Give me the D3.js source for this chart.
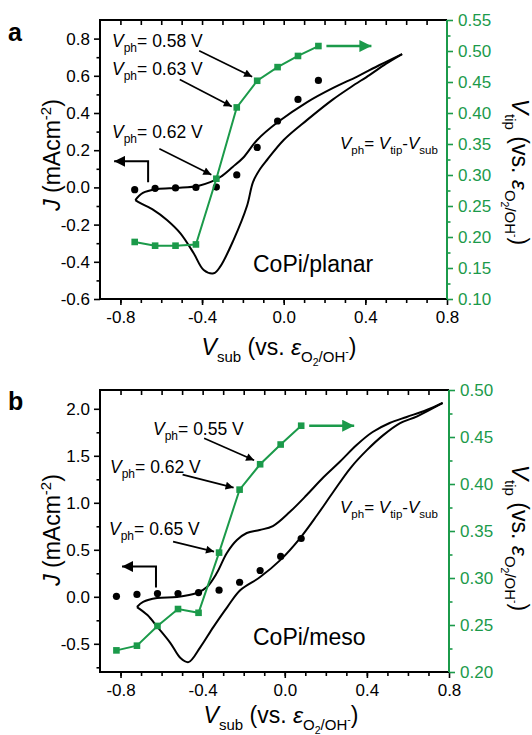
<!DOCTYPE html>
<html><head><meta charset="utf-8">
<script src="https://cdn.jsdelivr.net/npm/d3@7"></script>
<style>
body{margin:0;background:#fff}
svg{display:block}
text{font-family:"Liberation Sans",Arial,Helvetica,sans-serif;white-space:pre}
</style>
</head><body>
<svg id="chart" width="532" height="735"></svg>
<script>
const GREEN = "#1b9a4a";

// ---------- Panel a (CoPi/planar) ----------
const vsubA   = [-0.73,-0.63,-0.53,-0.43,-0.33,-0.23,-0.13,-0.03,0.07,0.17];
const vtipA   = [0.192,0.186,0.186,0.188,0.294,0.409,0.452,0.474,0.492,0.508];
const jDotA   = [-0.012,-0.005,-0.003,0.0,0.002,0.067,0.215,0.357,0.473,0.575];
const cvFwdA  = [[-0.727,-0.068],[-0.69,-0.03],[-0.62,-0.01],[-0.52,-0.003],[-0.42,0.008],[-0.36,0.028],[-0.31,0.056],[-0.25,0.11],[-0.2,0.158],[-0.13,0.255],[-0.03,0.35],[0.115,0.459],[0.24,0.534],[0.36,0.596],[0.47,0.658],[0.58,0.717]];
const cvRevA  = [[0.58,0.717],[0.5,0.664],[0.42,0.604],[0.33,0.54],[0.24,0.472],[0.115,0.363],[0.0,0.255],[-0.08,0.15],[-0.115,0.1],[-0.15,0.03],[-0.18,-0.1],[-0.246,-0.283],[-0.311,-0.426],[-0.343,-0.462],[-0.392,-0.444],[-0.441,-0.354],[-0.506,-0.247],[-0.572,-0.175],[-0.637,-0.122],[-0.702,-0.085],[-0.727,-0.068]];
const annA    = [{idx:6, val:"0.58", tx:112, ty:47},{idx:5, val:"0.63", tx:112, ty:75},{idx:4, val:"0.62", tx:112, ty:138}];

// ---------- Panel b (CoPi/meso) ----------
const vsubB   = [-0.82,-0.72,-0.62,-0.52,-0.42,-0.32,-0.22,-0.12,-0.02,0.08];
const vtipB   = [0.223,0.228,0.249,0.267,0.263,0.327,0.394,0.421,0.442,0.462];
const jDotB   = [0.005,0.025,0.035,0.035,0.045,0.07,0.155,0.28,0.43,0.62];
const cvFwdB  = [[-0.72,-0.109],[-0.69,-0.055],[-0.622,-0.013],[-0.525,-0.002],[-0.428,0.04],[-0.379,0.104],[-0.331,0.253],[-0.282,0.466],[-0.233,0.604],[-0.185,0.679],[-0.122,0.711],[-0.058,0.753],[0.024,0.902],[0.107,1.083],[0.185,1.264],[0.267,1.434],[0.35,1.615],[0.428,1.753],[0.511,1.849],[0.594,1.913],[0.691,1.987],[0.769,2.062]];
const cvRevB  = [[0.769,2.062],[0.645,1.92],[0.562,1.848],[0.48,1.72],[0.40,1.56],[0.32,1.37],[0.236,1.115],[0.158,0.87],[0.075,0.625],[-0.022,0.39],[-0.12,0.21],[-0.216,0.072],[-0.28,-0.109],[-0.348,-0.322],[-0.411,-0.535],[-0.469,-0.695],[-0.508,-0.652],[-0.557,-0.492],[-0.62,-0.322],[-0.669,-0.194],[-0.72,-0.109]];
const annB    = [{idx:7, val:"0.55", tx:153, ty:435},{idx:6, val:"0.62", tx:110, ty:473},{idx:5, val:"0.65", tx:109, ty:535}];

// ---------- Tick labels ----------
const xTicks   = [-0.8,-0.4,0.0,0.4,0.8];
const xMinor   = [-0.8,-0.7,-0.6,-0.5,-0.4,-0.3,-0.2,-0.1,0.0,0.1,0.2,0.3,0.4,0.5,0.6,0.7];
const yTicksA  = [-0.6,-0.4,-0.2,0.0,0.2,0.4,0.6,0.8];
const yMinorA  = [-0.5,-0.3,-0.1,0.1,0.3,0.5,0.7];
const rTicksA  = [0.10,0.15,0.20,0.25,0.30,0.35,0.40,0.45,0.50,0.55];
const yTicksB  = [-0.5,0.0,0.5,1.0,1.5,2.0];
const yMinorB  = [-0.75,-0.25,0.25,0.75,1.25,1.75];
const rTicksB  = [0.20,0.25,0.30,0.35,0.40,0.45,0.50];

const svg = d3.select("#chart");
const defs = svg.append("defs");
function marker(id, color, w, h){
  defs.append("marker").attr("id", id).attr("viewBox","0 0 10 10")
    .attr("refX",10).attr("refY",5).attr("markerUnits","userSpaceOnUse")
    .attr("markerWidth",w).attr("markerHeight",h).attr("orient","auto")
    .append("path").attr("d","M0,0L10,5L0,10z").attr("fill",color);
}
marker("ahBlack","#000",9,8);
marker("ahBent","#000",11,11);
marker("ahGreen",GREEN,13,12);

function rich(sel, x, y, parts, opt={}){
  const t = sel.append("text")
    .attr("transform", `translate(${x},${y}) rotate(${opt.rotate||0})`)
    .attr("text-anchor", opt.anchor||"start")
    .attr("fill", opt.fill||"#000");
  let cur = 0;
  parts.forEach(p=>{
    const o = p.o||0;
    t.append("tspan").attr("dy", o-cur).attr("font-size", p.s)
      .attr("font-style", p.i ? "italic" : "normal").text(p.t);
    cur = o;
  });
  return t;
}
const vphParts = v => [{t:"V",s:17.5,i:1},{t:"ph",s:12,o:5},{t:"= "+v+" V",s:17.5}];
const eqParts = [{t:"V",s:17,i:1},{t:"ph",s:11.5,o:5},{t:"= ",s:17},{t:"V",s:17,i:1},{t:"tip",s:11.5,o:5},{t:"-",s:17},{t:"V",s:17,i:1},{t:"sub",s:11.5,o:5}];
const refParts = [{t:" (vs. ",s:23},{t:"ε",s:23,i:1},{t:"O",s:15,o:7},{t:"2",s:10.5,o:11},{t:"/OH",s:15,o:7},{t:"-",s:10.5,o:0},{t:")",s:23,o:0}];
const xTitleParts = [{t:"V",s:23,i:1},{t:"sub",s:15,o:7}].concat(refParts);
const rTitleParts = [{t:"V",s:23,i:1},{t:"tip",s:15,o:7}].concat(refParts);
const lTitleParts = [{t:"J",s:23,i:1},{t:" (mAcm",s:23},{t:"-2",s:15,o:-9},{t:")",s:23,o:0}];

function panel(cfg){
  const {left,right,top,bottom} = cfg.box;
  const x = d3.scaleLinear([-0.9,0.8],[left,right]);
  const yL = d3.scaleLinear(cfg.yDom,[bottom,top]);
  const yR = d3.scaleLinear(cfg.rDom,[bottom,top]);
  const g = svg.append("g");
  const fmt1 = d3.format(".1f"), fmt2 = d3.format(".2f");
  const style = (sel, color) => {
    sel.select(".domain").remove();
    sel.selectAll("line").attr("stroke", color).attr("stroke-width",1.6);
    sel.selectAll("text").attr("fill", color).attr("font-size",17)
      .attr("font-family","'Liberation Sans',Arial,sans-serif");
  };
  const hyph = s => s.replace("−","-");
  // bottom axis
  g.append("g").attr("transform",`translate(0,${bottom})`)
    .call(d3.axisBottom(x).tickValues(xMinor).tickSize(4).tickFormat(""))
    .call(s=>style(s,"#000"));
  g.append("g").attr("transform",`translate(0,${bottom})`)
    .call(d3.axisBottom(x).tickValues(xTicks).tickSize(6).tickPadding(6).tickFormat(d=>hyph(fmt1(d))))
    .call(s=>style(s,"#000"));
  // top axis (inward)
  g.append("g").attr("transform",`translate(0,${top})`)
    .call(d3.axisTop(x).tickValues(xMinor).tickSize(-5).tickFormat(""))
    .call(s=>style(s,"#000"));
  // left axis
  g.append("g").attr("transform",`translate(${left},0)`)
    .call(d3.axisLeft(yL).tickValues(cfg.yMinor).tickSize(3.5).tickFormat(""))
    .call(s=>style(s,"#000"));
  g.append("g").attr("transform",`translate(${left},0)`)
    .call(d3.axisLeft(yL).tickValues(cfg.yTicks).tickSize(6).tickPadding(4).tickFormat(d=>hyph(fmt1(d))))
    .call(s=>style(s,"#000"));
  // right axis
  const rMinor = d3.range(cfg.rDom[0]+0.025, cfg.rDom[1], 0.05);
  g.append("g").attr("transform",`translate(${right},0)`)
    .call(d3.axisRight(yR).tickValues(rMinor).tickSize(3.5).tickFormat(""))
    .call(s=>style(s,GREEN));
  g.append("g").attr("transform",`translate(${right},0)`)
    .call(d3.axisRight(yR).tickValues(cfg.rTicks).tickSize(6).tickPadding(5).tickFormat(d=>fmt2(d)))
    .call(s=>style(s,GREEN));
  // frame
  g.append("path").attr("d",`M${right},${top}H${left}V${bottom}H${right}`).attr("fill","none").attr("stroke","#000").attr("stroke-width",2);
  g.append("line").attr("x1",right).attr("x2",right).attr("y1",top).attr("y2",bottom).attr("stroke",GREEN).attr("stroke-width",2);

  // CV curve
  const line = d3.line().x(d=>x(d[0])).y(d=>yL(d[1])).curve(d3.curveCatmullRom.alpha(0.5));
  [cfg.cvF, cfg.cvR].forEach(arr=>{
    g.append("path").attr("d", line(arr)).attr("fill","none").attr("stroke","#000").attr("stroke-width",2);
  });
  // black dots
  g.selectAll(null).data(cfg.vsub.map((v,i)=>[v,cfg.jDot[i]])).join("circle")
    .attr("cx",d=>x(d[0])).attr("cy",d=>yL(d[1])).attr("r",3.6).attr("fill","#000");
  // green V_tip line
  const gpts = cfg.vsub.map((v,i)=>[v,cfg.vtip[i]]);
  g.append("path").attr("d", d3.line().x(d=>x(d[0])).y(d=>yR(d[1]))(gpts))
    .attr("fill","none").attr("stroke",GREEN).attr("stroke-width",2);
  g.selectAll(null).data(gpts).join("rect")
    .attr("x",d=>x(d[0])-3.3).attr("y",d=>yR(d[1])-3.3).attr("width",6.6).attr("height",6.6).attr("fill",GREEN);
  // green arrow (right axis)
  const last = gpts[gpts.length-1];
  g.append("line").attr("x1",x(last[0])+8).attr("x2",x(last[0])+53)
    .attr("y1",yR(last[1])).attr("y2",yR(last[1]))
    .attr("stroke",GREEN).attr("stroke-width",2.5).attr("marker-end","url(#ahGreen)");
  // bent black arrow (left axis)
  const bx = x(cfg.vsub[cfg.bentIdx]) + cfg.bentDx, by = yL(cfg.jDot[cfg.bentIdx]);
  g.append("path").attr("d",`M${bx},${by-6}V${by-27}H${bx-34}`)
    .attr("fill","none").attr("stroke","#000").attr("stroke-width",2).attr("marker-end","url(#ahBent)");
  // annotations
  cfg.ann.forEach(a=>{
    const p = gpts[a.idx];
    const tx = x(p[0])+a.dx, ty = yR(p[1])+a.dy;
    g.append("line").attr("x1",tx+a.sx).attr("y1",ty+a.sy).attr("x2",tx).attr("y2",ty)
      .attr("stroke","#000").attr("stroke-width",1.6).attr("marker-end","url(#ahBlack)");
    rich(g, a.tx, a.ty, vphParts(a.val));
  });
  rich(g, 340, cfg.eqY, eqParts);
  g.append("text").attr("x",cfg.nameX).attr("y",cfg.nameY).attr("font-size",23).text(cfg.name);
  g.append("text").attr("x",8).attr("y",cfg.letterY).attr("font-size",25).attr("font-weight","bold").text(cfg.letter);
  // axis titles
  rich(g, cfg.xTitleX, cfg.xTitleY, xTitleParts, {anchor:"middle"});
  rich(g, 60, cfg.lTitleY, lTitleParts, {anchor:"middle", rotate:-90});
  rich(g, 512, cfg.rTitleY, rTitleParts, {anchor:"middle", rotate:90});
}

panel({
  box:{left:100,right:447,top:20,bottom:299},
  yDom:[-0.6,0.9], rDom:[0.10,0.55],
  yTicks:yTicksA, yMinor:yMinorA, rTicks:rTicksA,
  vsub:vsubA, vtip:vtipA, jDot:jDotA, cvF:cvFwdA, cvR:cvRevA,
  bentIdx:1, bentDx:-7,
  ann: annA.map((a,i)=>Object.assign({}, a, [{dx:-5,dy:-4,sx:-53,sy:-26},{dx:-5,dy:-1,sx:-52,sy:-27},{dx:-5,dy:-4,sx:-52,sy:-26}][i])),
  eqY:149, name:"CoPi/planar", nameX:253, nameY:272, letter:"a", letterY:41,
  xTitleX:279, xTitleY:355, lTitleY:155, rTitleY:172
});
panel({
  box:{left:100,right:449,top:390,bottom:672},
  yDom:[-0.8,2.2], rDom:[0.20,0.50],
  yTicks:yTicksB, yMinor:yMinorB, rTicks:rTicksB,
  vsub:vsubB, vtip:vtipB, jDot:jDotB, cvF:cvFwdB, cvR:cvRevB,
  bentIdx:2, bentDx:-1.5,
  ann: annB.map((a,i)=>Object.assign({}, a, [{dx:-6,dy:-4,sx:-50,sy:-22},{dx:-6,dy:-2,sx:-51,sy:-13},{dx:-5,dy:-1,sx:-41,sy:-10}][i])),
  eqY:513, name:"CoPi/meso", nameX:253, nameY:645, letter:"b", letterY:410,
  xTitleX:281, xTitleY:723, lTitleY:530, rTitleY:538
});
</script>
</body></html>
